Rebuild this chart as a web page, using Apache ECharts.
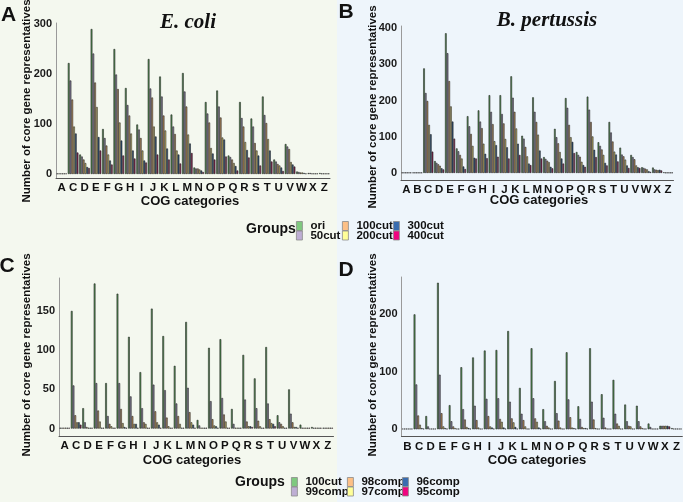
<!DOCTYPE html>
<html><head><meta charset="utf-8">
<script src="https://cdn.jsdelivr.net/npm/echarts@6/dist/echarts.min.js"></script>
<style>html,body{margin:0;padding:0;background:#eef5fb}#c{width:683px;height:502px}</style>
</head><body><div id="c"></div>
<script>
// ---------- categories ----------
const catsA = ['A','C','D','E','F','G','H','I','J','K','L','M','N','O','P','Q','R','S','T','U','V','W','X','Z'];
const catsB = ['A','B','C','D','E','F','G','H','I','J','K','L','M','N','O','P','Q','R','S','T','U','V','W','X','Z'];
const catsC = ['A','C','D','E','F','G','H','I','J','K','L','M','N','O','P','Q','R','S','T','U','V','W','X','Z'];
const catsD = ['B','C','D','E','F','G','H','I','J','K','L','M','N','O','P','Q','R','S','T','U','V','W','X','Z'];

// ---------- group names ----------
const groupsTop = ['ori','50cut','100cut','200cut','300cut','400cut'];
const groupsBottom = ['100cut','99comp','98comp','97comp','96comp','95comp'];

// ---------- Panel A: E. coli ----------
const ecoliOri   = [1,222,39,290,90,250,172,99,230,195,119,202,13,144,167,37,144,111,155,29,60,5,2,2];
const ecoli50    = [1,187,35,241,72,199,138,89,171,155,95,165,11,121,135,34,112,95,118,25,55,4,2,1];
const ecoli100   = [1,149,29,183,57,170,117,72,153,117,80,135,11,103,113,29,95,62,102,20,50,3,1,1];
const ecoli200   = [1,95,22,134,39,103,81,47,95,87,47,79,9,52,73,22,64,47,70,17,24,3,1,1];
const ecoli300   = [1,81,14,74,27,67,47,27,75,51,39,61,7,41,69,16,48,37,47,13,19,2,1,1];
const ecoli400   = [1,43,12,47,19,37,31,23,39,29,21,42,4,29,35,7,33,17,25,6,15,1,1,1];

// ---------- Panel B: B. pertussis ----------
const pertOri = [1,1,289,33,386,68,157,173,215,215,267,103,209,44,122,207,58,211,85,141,70,50,16,15,2];
const pert50  = [1,1,221,28,331,60,129,142,169,163,208,95,169,39,99,180,50,175,75,112,51,44,14,10,1];
const pert100 = [1,1,199,24,254,50,108,124,135,137,169,72,141,34,82,133,45,141,65,87,46,38,12,9,1];
const pert200 = [1,1,133,20,184,40,75,81,88,94,123,46,106,30,58,99,31,101,50,59,37,21,10,8,1];
const pert300 = [1,1,107,13,142,18,42,53,77,71,81,26,62,17,40,86,22,64,28,51,21,16,5,9,1];
const pert400 = [1,1,59,10,95,11,40,41,45,40,50,22,40,13,26,55,17,44,21,32,14,14,3,7,1];

// ---------- Panel C: E. coli completeness ----------
const ecoliC100 = [1,150,26,185,58,172,117,72,153,118,80,136,11,103,114,25,94,64,104,17,50,5,2,1];
const ecoliC99  = [1,55,8,58,16,58,41,26,56,49,32,52,4,35,39,6,37,26,32,8,19,1,1,1];
const ecoliC98  = [1,17,2,23,6,25,16,8,22,14,16,21,1,12,18,1,9,10,12,6,8,1,1,1];
const ecoliC97  = [1,8,1,9,3,7,6,6,8,3,6,8,1,4,9,1,3,3,7,3,2,1,1,1];
const ecoliC96  = [1,8,1,1,1,2,6,1,5,1,1,5,1,3,1,1,3,1,6,1,2,1,1,1];
const ecoliC95  = [1,5,1,1,1,1,1,1,1,1,1,1,1,1,1,1,2,1,3,1,1,1,1,1];

// ---------- Panel D: B. pertussis completeness ----------
const pertD100 = [1,200,23,255,42,108,125,137,138,171,72,141,35,84,134,40,141,61,86,43,41,10,6,2];
const pertD99  = [1,78,5,95,14,35,41,53,54,48,27,54,14,28,52,18,48,20,27,14,14,4,6,1];
const pertD98  = [1,24,1,28,5,17,16,23,18,19,16,19,6,15,21,4,17,3,10,6,5,1,6,1];
const pertD97  = [1,8,1,5,2,4,3,5,13,12,5,13,3,3,3,2,2,1,6,5,2,1,6,1];
const pertD96  = [1,2,1,2,1,2,1,3,3,4,1,3,1,1,2,2,1,1,1,1,1,1,6,1];
const pertD95  = [1,1,1,1,1,1,1,1,1,1,1,1,1,1,1,1,1,1,1,1,1,1,5,1];

// ---------- styling ----------
const barColors = ['#4f944f','#9089aa','#cc975f','#dccb6c','#24507e','#8e1a50'];
const keyColors = ['#7fc97f','#beaed4','#fdc086','#ffff99','#386cb0','#f0027f'];
const SANS = '"Liberation Sans", Arial, sans-serif';

const panels = [
  {cats: catsA, names: groupsTop, data: [ecoliOri,ecoli50,ecoli100,ecoli200,ecoli300,ecoli400],
   grid:{left:56,top:23,width:274,height:155}, min:-8, max:302, step:100, split:3},
  {cats: catsB, names: groupsTop, data: [pertOri,pert50,pert100,pert200,pert300,pert400],
   grid:{left:401,top:26,width:272.5,height:154}, min:-19.4, max:406, step:100, split:4},
  {cats: catsC, names: groupsBottom, data: [ecoliC100,ecoliC99,ecoliC98,ecoliC97,ecoliC96,ecoliC95],
   grid:{left:59,top:278,width:274.5,height:158}, min:-9.5, max:192, step:50, split:4},
  {cats: catsD, names: groupsBottom, data: [pertD100,pertD99,pertD98,pertD97,pertD96,pertD95],
   grid:{left:401.5,top:277,width:281,height:159.5}, min:-12.6, max:265, step:100, split:3}
];

const grid = [], xAxis = [], yAxis = [], series = [];
panels.forEach((p, pi) => {
  grid.push(Object.assign({containLabel:false}, p.grid));
  xAxis.push({type:'category', gridIndex:pi, data:p.cats,
    axisLine:{onZero:false, lineStyle:{color:'#555', width:1}},
    axisTick:{show:false},
    axisLabel:{interval:0, margin:4, color:'#111', fontSize:11.5, fontWeight:'bold', fontFamily:SANS}});
  const step = p.step;
  yAxis.push({type:'value', gridIndex:pi, min:p.min, max:p.max, splitNumber:p.split,
    axisLine:{show:true, lineStyle:{color:'#9a9a9a', width:1}},
    axisTick:{show:false}, splitLine:{show:false},
    axisLabel:{showMinLabel:false, showMaxLabel:false, margin:4, color:'#1a1a1a', fontSize:11, fontWeight:'bold', fontFamily:SANS,
      formatter: v => (Math.abs(v % step) < 1e-6 && v >= 0) ? String(v) : ''}});
  p.data.forEach((arr, si) => {
    series.push({type:'bar', name:p.names[si], xAxisIndex:pi, yAxisIndex:pi, data:arr,
      barGap:'0%', barCategoryGap:'7%', silent:true,
      itemStyle:{color:barColors[si], borderColor:'#262626', borderWidth:0.6}});
  });
});

function mkLegend(name, col, left, top) {
  return {orient:'vertical', left, top, itemWidth:6, itemHeight:9, itemGap:0, padding:0, icon:'rect',
    selectedMode:false,
    textStyle:{fontSize:11.5, fontWeight:'bold', color:'#111', fontFamily:SANS, padding:[0,0,0,3], lineHeight:10},
    data: [{name, itemStyle:{color:col, borderColor:'#8a8a8a', borderWidth:0.8}}]};
}
const legend = [];
const topCols = [296, 342, 393], botCols = [291, 347, 402];
for (let i = 0; i < 6; i++) {
  const c = Math.floor(i / 2), r = i % 2;
  legend.push(mkLegend(groupsTop[i], keyColors[i], topCols[c], 220 + r * 9.5));
  legend.push(mkLegend(groupsBottom[i], keyColors[i], botCols[c], 476 + r * 9.5));
}

function txt(text, x, y, font, rot, align) {
  return {type:'text', x, y, rotation: rot || 0, silent:true, z:100,
    style:{text, x:0, y:0, font, fill:'#111', textAlign: align || 'center', textVerticalAlign:'middle',
      align: align || 'center', verticalAlign:'middle'}};
}
const yTitle = 'Number of core gene representatives';
const graphic = [
  {type:'rect', shape:{x:0,y:0,width:337,height:502}, style:{fill:'#f4f8ef'}, z:-100, silent:true},
  {type:'rect', shape:{x:337,y:0,width:346,height:502}, style:{fill:'#eef5fb'}, z:-100, silent:true},
  txt('A', 8.5, 15, 'bold 21px ' + SANS),
  txt('B', 346, 12, 'bold 21px ' + SANS),
  txt('C', 7, 266, 'bold 21px ' + SANS),
  txt('D', 346, 270, 'bold 21px ' + SANS),
  txt('E. coli', 188, 23, 'italic bold 21px "Liberation Serif", "Times New Roman", serif'),
  txt('B. pertussis', 547, 21, 'italic bold 21px "Liberation Serif", "Times New Roman", serif'),
  txt(yTitle, 27, 101, 'bold 11.5px ' + SANS, Math.PI/2),
  txt(yTitle, 373, 107, 'bold 11.5px ' + SANS, Math.PI/2),
  txt(yTitle, 27, 355, 'bold 11.5px ' + SANS, Math.PI/2),
  txt(yTitle, 373, 355, 'bold 11.5px ' + SANS, Math.PI/2),
  txt('COG categories', 190, 201, 'bold 13px ' + SANS),
  txt('COG categories', 539, 200, 'bold 13px ' + SANS),
  txt('COG categories', 192, 460, 'bold 13px ' + SANS),
  txt('COG categories', 537, 460, 'bold 13px ' + SANS),
  txt('Groups', 246, 229.5, 'bold 14px ' + SANS, 0, 'left'),
  txt('Groups', 235, 482, 'bold 14px ' + SANS, 0, 'left')
];

const chart = echarts.init(document.getElementById('c'), null, {renderer:'canvas'});
chart.setOption({animation:false, backgroundColor:'#eef5fb', grid, xAxis, yAxis, series, legend, graphic});
</script></body></html>
